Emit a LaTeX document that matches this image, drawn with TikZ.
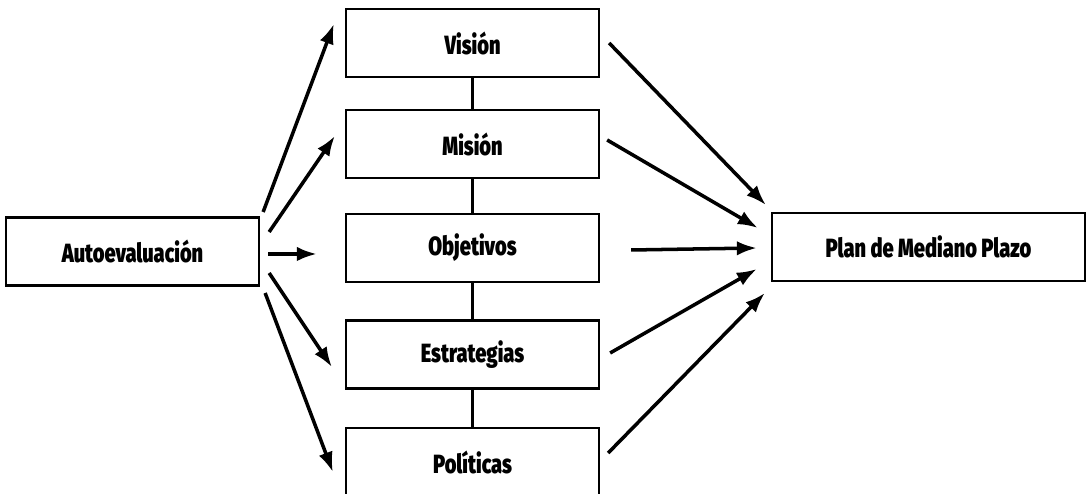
\documentclass[tikz,border=0pt]{standalone}
\usepackage{fontspec}
\setmainfont{Fira Sans}[FakeStretch=0.78, BoldFont={Fira Sans Black}, BoldFeatures={FakeStretch=0.76}]
\usetikzlibrary{arrows.meta}

\begin{document}
\begin{tikzpicture}[
    caja/.style={draw, line width=1.3pt, minimum width=5.06cm, minimum height=1.36cm,
        font=\bfseries\fontsize{15}{17}\selectfont},
    flecha/.style={line width=2pt, -{Latex[length=4mm,width=2.9mm]}}]
            \useasboundingbox (0,0) rectangle (21.84,9.88);

            \node[caja] (auto) at (2.65,4.85) {Autoevaluación};
            \node[caja] (vis) at (9.45,9.02) {Visión};
            \node[caja] (mis) at (9.45,7.00) {Misión};
            \node[caja] (obj) at (9.45,4.92) {Objetivos};
            \node[caja] (est) at (9.45,2.79) {Estrategias};
            \node[caja] (pol) at (9.45,0.64) {Políticas};
            \node[caja, minimum width=6.26cm] (plan) at (18.57,4.94) {Plan de Mediano Plazo};

            \draw[line width=1.8pt] (vis) -- (mis) -- (obj) -- (est) -- (pol);

            \foreach \n/\sx/\sy/\ex/\ey in {vis/0.06/0.79/-0.22/0.38, mis/0.18/0.39/-0.20/0.16,
                obj/0.16/-0.05/-0.56/-0.12, est/0.18/-0.43/-0.26/-0.25, pol/0.10/-0.83/-0.24/-0.20}
            \draw[flecha] ([shift={(\sx,\sy)}]auto.east) -- ([shift={(\ex,\ey)}]\n.west);

            \foreach \n/\sx/\sy/\ex/\ey in {vis/0.18/0/-0.10/0.84, mis/0.14/0.08/-0.26/0.38,
                obj/0.62/-0.04/-0.28/-0.02, est/0.20/0.03/-0.28/-0.44, pol/0.16/0.18/-0.12/-0.92}
            \draw[flecha] ([shift={(\sx,\sy)}]\n.east) -- ([shift={(\ex,\ey)}]plan.west);
        \end{tikzpicture}
\end{document}
